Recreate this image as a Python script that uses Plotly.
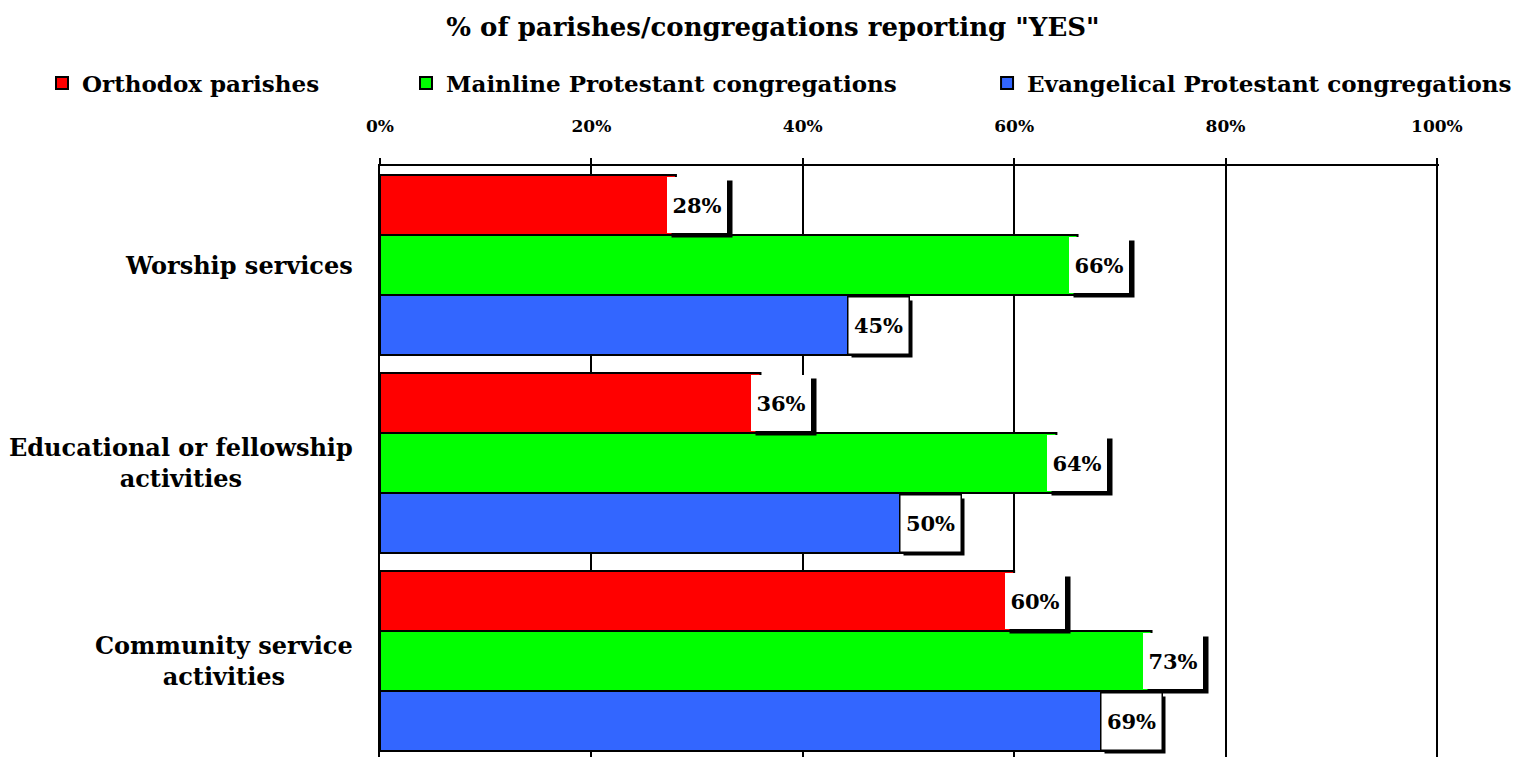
import plotly.graph_objects as go

# data
categories = ["Worship services",
              "Educational or fellowship<br>activities",
              "Community service<br>activities"]
series_names = ["Orthodox parishes",
                "Mainline Protestant congregations",
                "Evangelical Protestant congregations"]
orthodox = [28, 36, 60]
mainline = [66, 64, 73]
evangelical = [45, 50, 69]

FONT = "DejaVu Serif"
COLORS = ["#ff0000", "#00ff00", "#3366ff"]
LEGENDS = ["legend", "legend2", "legend3"]
LEGEND_X = [0.0223, 0.261, 0.642]

fig = go.Figure()

values = [orthodox, mainline, evangelical]
for name, vals, color, leg in zip(series_names, values, COLORS, LEGENDS):
    fig.add_trace(go.Bar(
        y=categories, x=vals, name=name, orientation="h",
        marker={"color": color, "line": {"color": "black", "width": 2}},
        legend=leg, hoverinfo="x+name",
    ))

# value labels: white boxes with a black drop shadow
bar_w = (1 - 0.09) / 3
annotations = []
for s, vals in enumerate(values):
    off = (s - 1) * bar_w
    for i, v in enumerate(vals):
        common = dict(x=v, y=i + off, xref="x", yref="y", xanchor="left",
                      yanchor="middle", showarrow=False, width=58, height=54,
                      borderpad=1,
                      font={"family": FONT, "size": 21, "color": "black"})
        # shadow box (no text)
        annotations.append(dict(common, text=" ", xshift=-5, yshift=-4,
                                bgcolor="black"))
        annotations.append(dict(common, text=f"<b>{v}%</b>", xshift=-9,
                                bgcolor="white",
                                bordercolor="black" if s == 2 else "white",
                                borderwidth=1.5 if s == 2 else 0))

# category labels, centred lines like the original
for i, c in enumerate(categories):
    annotations.append(dict(
        x=0, y=i, xref="paper", yref="y", xanchor="right", yanchor="middle",
        xshift=-25, showarrow=False, align="center", text=f"<b>{c}</b>",
        font={"family": FONT, "size": 24, "color": "black"},
    ))

legend_common = {
    "orientation": "h", "xref": "container", "yref": "container",
    "y": 0.901, "yanchor": "middle", "xanchor": "left",
    "font": {"family": FONT, "size": 23, "color": "black", "weight": "bold"},
    "bgcolor": "rgba(0,0,0,0)",
}

fig.update_layout(
    title={"text": "<b>% of parishes/congregations reporting \"YES\"</b>",
           "x": 0.5016, "xanchor": "center", "y": 0.975, "yanchor": "middle",
           "font": {"family": FONT, "size": 26, "color": "black"}},
    width=1525, height=757,
    margin={"l": 372, "r": 94, "t": 158, "b": 5},
    paper_bgcolor="white", plot_bgcolor="white",
    barmode="group", bargap=0.09, bargroupgap=0,
    showlegend=True,
    annotations=annotations,
    legend=dict(legend_common, x=LEGEND_X[0]),
    legend2=dict(legend_common, x=LEGEND_X[1]),
    legend3=dict(legend_common, x=LEGEND_X[2]),
)

fig.update_xaxes(
    side="top", range=[0, 100.2], tick0=0, dtick=20, ticksuffix="%",
    showgrid=True, gridcolor="black", gridwidth=2, zeroline=False,
    ticks="outside", ticklen=6, tickwidth=2, tickcolor="black",
    showline=True, linecolor="black", linewidth=2,
    ticklabelstandoff=19,
    tickfont={"family": FONT, "size": 17, "color": "black", "weight": "bold"},
)
fig.update_yaxes(
    type="category", range=[2.5, -0.5], showticklabels=False,
    showgrid=False, zeroline=False, ticks="",
    showline=True, linecolor="black", linewidth=2,
)

fig.write_html("out.html")
